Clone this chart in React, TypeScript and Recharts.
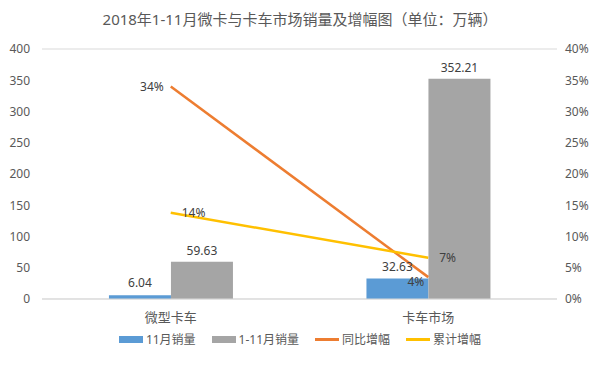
import { ComposedChart, Bar, Line, XAxis, YAxis, CartesianGrid, LabelList } from "recharts"

const categories = ["微型卡车", "卡车市场"]
const novSales = [6.04, 32.63]
const ytdSales = [59.63, 352.21]
const yoyGrowth = [0.34, 0.035]
const ytdGrowth = [0.138, 0.066]
const leftTicks = [0, 50, 100, 150, 200, 250, 300, 350, 400]
const rightTicks = [0, 0.05, 0.1, 0.15, 0.2, 0.25, 0.3, 0.35, 0.4]
const seriesNames = ["11月销量", "1-11月销量", "同比增幅", "累计增幅"]
const seriesColors = ["#5B9BD5", "#A5A5A5", "#ED7D31", "#FFC000"]

const data = categories.map((name, i) => ({
  name,
  nov: novSales[i],
  ytd: ytdSales[i],
  yoy: yoyGrowth[i],
  cum: ytdGrowth[i],
}))

const font = "'Noto Sans', 'Noto Sans CJK SC', sans-serif"
const pct = (v: number) => `${Math.round(v * 100)}%`

// 同比增幅: labels sit to the left of the points
const YoyLabel = (props: any) => {
  const { x, y, value, index } = props
  const dx = index === 0 ? -7 : -4
  const dy = index === 0 ? 4 : 9
  return (
    <text x={x + dx} y={y + dy} textAnchor="end" fontSize={12} fill="#404040" fontFamily={font}>
      {pct(value)}
    </text>
  )
}

// 累计增幅: labels sit to the right
const CumLabel = (props: any) => {
  const { x, y, value } = props
  return (
    <text x={x + 11} y={y + 4} textAnchor="start" fontSize={12} fill="#404040" fontFamily={font}>
      {pct(value)}
    </text>
  )
}

export default function App() {
  return (
    <div style={{ position: "absolute", left: 0, top: 0, width: 600, height: 370, background: "#fff", fontFamily: font }}>
      <div style={{ position: "absolute", top: 8, width: 600, textAlign: "center", fontSize: 15, color: "#595959" }}>
        2018年1-11月微卡与卡车市场销量及增幅图（单位：万辆）
      </div>
      <ComposedChart
        width={600}
        height={370}
        data={data}
        margin={{ top: 49, right: 0, bottom: 40, left: 0 }}
        barGap={0}
        barCategoryGap="26%"
      >
        <CartesianGrid vertical={false} stroke="#d9d9d9" />
        <XAxis
          dataKey="name"
          axisLine={{ stroke: "#d9d9d9" }}
          tickLine={false}
          height={31}
          tick={{ fontSize: 13, fill: "#595959", fontFamily: font }}
          tickMargin={8}
        />
        <YAxis
          yAxisId="left"
          width={42}
          domain={[0, 400]}
          ticks={leftTicks}
          axisLine={false}
          tickLine={false}
          tickMargin={6}
          tick={{ fontSize: 12, fill: "#595959", fontFamily: font }}
        />
        <YAxis
          yAxisId="right"
          orientation="right"
          width={43}
          domain={[0, 0.4]}
          ticks={rightTicks}
          tickFormatter={pct}
          axisLine={false}
          tickLine={false}
          tickMargin={2}
          tick={{ fontSize: 12, fill: "#595959", fontFamily: font }}
        />
        <Bar yAxisId="left" dataKey="nov" name={seriesNames[0]} fill={seriesColors[0]} isAnimationActive={false}>
          <LabelList dataKey="nov" position="top" offset={8} fontSize={12} fill="#404040" fontFamily={font} />
        </Bar>
        <Bar yAxisId="left" dataKey="ytd" name={seriesNames[1]} fill={seriesColors[1]} isAnimationActive={false}>
          <LabelList dataKey="ytd" position="top" offset={7} fontSize={12} fill="#404040" fontFamily={font} />
        </Bar>
        <Line
          yAxisId="right"
          dataKey="yoy"
          name={seriesNames[2]}
          stroke={seriesColors[2]}
          strokeWidth={2.5}
          dot={false}
          isAnimationActive={false}
        >
          <LabelList dataKey="yoy" content={YoyLabel} />
        </Line>
        <Line
          yAxisId="right"
          dataKey="cum"
          name={seriesNames[3]}
          stroke={seriesColors[3]}
          strokeWidth={2.5}
          dot={false}
          isAnimationActive={false}
        >
          <LabelList dataKey="cum" content={CumLabel} />
        </Line>
      </ComposedChart>
      <div
        style={{
          position: "absolute",
          top: 330,
          width: 600,
          display: "flex",
          justifyContent: "center",
          gap: 16,
          fontSize: 12,
          color: "#595959",
        }}
      >
        {seriesNames.map((n, i) => (
          <div key={n} style={{ display: "flex", alignItems: "center" }}>
            <span
              style={{
                display: "inline-block",
                width: 24,
                height: i < 2 ? 7 : 3,
                background: seriesColors[i],
                marginRight: 3,
              }}
            />
            {n}
          </div>
        ))}
      </div>
    </div>
  )
}
